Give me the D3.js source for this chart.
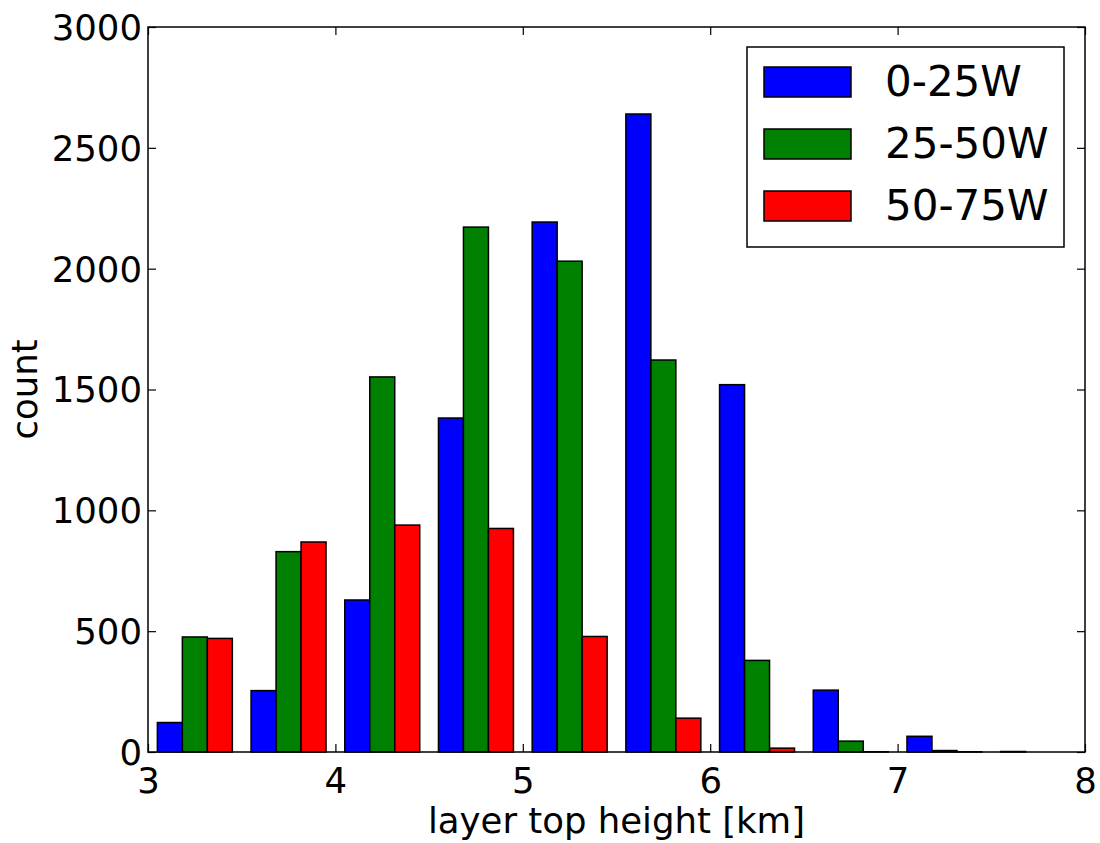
<!DOCTYPE html>
<html>
<head>
<meta charset="utf-8">
<script src="https://cdn.jsdelivr.net/npm/d3@7"></script>
<style>
  html, body { margin: 0; padding: 0; background: #fff; }
  svg { display: block; font-family: "DejaVu Sans", sans-serif; }
</style>
</head>
<body>
<svg id="chart" width="1100" height="843"></svg>
<script>
// Histogram of layer top heights, binned every 0.5 km, for three longitude bands
const binEdges = [3.0, 3.5, 4.0, 4.5, 5.0, 5.5, 6.0, 6.5, 7.0, 7.5, 8.0];
const seriesNames = ["0-25W", "25-50W", "50-75W"];
const seriesColors = ["#0000ff", "#008000", "#ff0000"];
const counts0to25 = [122, 254, 629, 1382, 2193, 2640, 1520, 256, 65, 2];
const counts25to50 = [476, 829, 1552, 2172, 2031, 1622, 379, 45, 6, 0];
const counts50to75 = [470, 869, 939, 925, 478, 140, 16, 1, 1, 0];
const xTicks = [3, 4, 5, 6, 7, 8];
const yTicks = [0, 500, 1000, 1500, 2000, 2500, 3000];

const series = [counts0to25, counts25to50, counts50to75];

const svg = d3.select("#chart");
const plot = { left: 148, right: 1085, top: 27, bottom: 752 };

const x = d3.scaleLinear().domain([3, 8]).range([plot.left, plot.right]);
const y = d3.scaleLinear().domain([0, 3000]).range([plot.bottom, plot.top]);

// grouped bars: 80% of each bin shared by the three series
const rwidth = 0.8;
const bars = [];
series.forEach((vals, s) => {
  vals.forEach((v, i) => {
    const w = binEdges[i + 1] - binEdges[i];
    const bw = w * rwidth / series.length;
    const x0 = binEdges[i] + w * (1 - rwidth) / 2 + s * bw;
    bars.push({ s, x0, x1: x0 + bw, v });
  });
});

svg.append("g")
  .selectAll("rect")
  .data(bars)
  .join("rect")
  .attr("x", d => x(d.x0))
  .attr("width", d => x(d.x1) - x(d.x0))
  .attr("y", d => y(d.v))
  .attr("height", d => y(0) - y(d.v))
  .attr("fill", d => seriesColors[d.s])
  .attr("stroke", "#000")
  .attr("stroke-width", 1.5);

// axes: ticks pointing inward on all four sides, labels left and bottom
const tickLen = 8;
const fontSize = 35.5;

const bottomAxis = d3.axisBottom(x).tickValues(xTicks).tickFormat(d3.format("d"))
  .tickSizeInner(-tickLen).tickSizeOuter(0).tickPadding(16);
const topAxis = d3.axisTop(x).tickValues(xTicks).tickFormat("")
  .tickSizeInner(-tickLen).tickSizeOuter(0);
const leftAxis = d3.axisLeft(y).tickValues(yTicks).tickFormat(d3.format("d"))
  .tickSizeInner(-tickLen).tickSizeOuter(0).tickPadding(6);
const rightAxis = d3.axisRight(y).tickValues(yTicks).tickFormat("")
  .tickSizeInner(-tickLen).tickSizeOuter(0);

function styleAxis(g) {
  g.select(".domain").remove();
  g.selectAll(".tick line").attr("stroke", "#000").attr("stroke-width", 1.2);
  g.selectAll(".tick text")
    .attr("fill", "#000")
    .style("font-size", fontSize + "px")
    .style("font-family", "'DejaVu Sans', sans-serif");
}

svg.append("g").attr("transform", `translate(0,${plot.bottom})`).call(bottomAxis).call(styleAxis);
svg.append("g").attr("transform", `translate(0,${plot.top})`).call(topAxis).call(styleAxis);
svg.append("g").attr("transform", `translate(${plot.left},0)`).call(leftAxis).call(styleAxis)
  .selectAll(".tick text").attr("dy", "0.35em");
svg.append("g").attr("transform", `translate(${plot.right},0)`).call(rightAxis).call(styleAxis);

// frame
svg.append("rect")
  .attr("x", plot.left).attr("y", plot.top)
  .attr("width", plot.right - plot.left).attr("height", plot.bottom - plot.top)
  .attr("fill", "none").attr("stroke", "#000").attr("stroke-width", 1.5);

// axis titles
svg.append("text")
  .attr("x", (plot.left + plot.right) / 2).attr("y", 833)
  .attr("text-anchor", "middle")
  .style("font-size", fontSize + "px")
  .text("layer top height [km]");

svg.append("text")
  .attr("transform", `translate(37,${(plot.top + plot.bottom) / 2}) rotate(-90)`)
  .attr("text-anchor", "middle")
  .style("font-size", fontSize + "px")
  .text("count");

// legend
const legend = svg.append("g");
legend.append("rect")
  .attr("x", 747).attr("y", 47).attr("width", 317).attr("height", 200)
  .attr("fill", "#fff").attr("stroke", "#000").attr("stroke-width", 1.5);

const legendRows = legend.selectAll("g.row")
  .data(seriesNames)
  .join("g")
  .attr("class", "row")
  .attr("transform", (d, i) => `translate(0,${67 + i * 62})`);

legendRows.append("rect")
  .attr("x", 764).attr("y", 0).attr("width", 87).attr("height", 30)
  .attr("fill", (d, i) => seriesColors[i])
  .attr("stroke", "#000").attr("stroke-width", 1.5);

legendRows.append("text")
  .attr("x", 885).attr("y", 29)
  .style("font-size", "42px")
  .text(d => d);
</script>
</body>
</html>
